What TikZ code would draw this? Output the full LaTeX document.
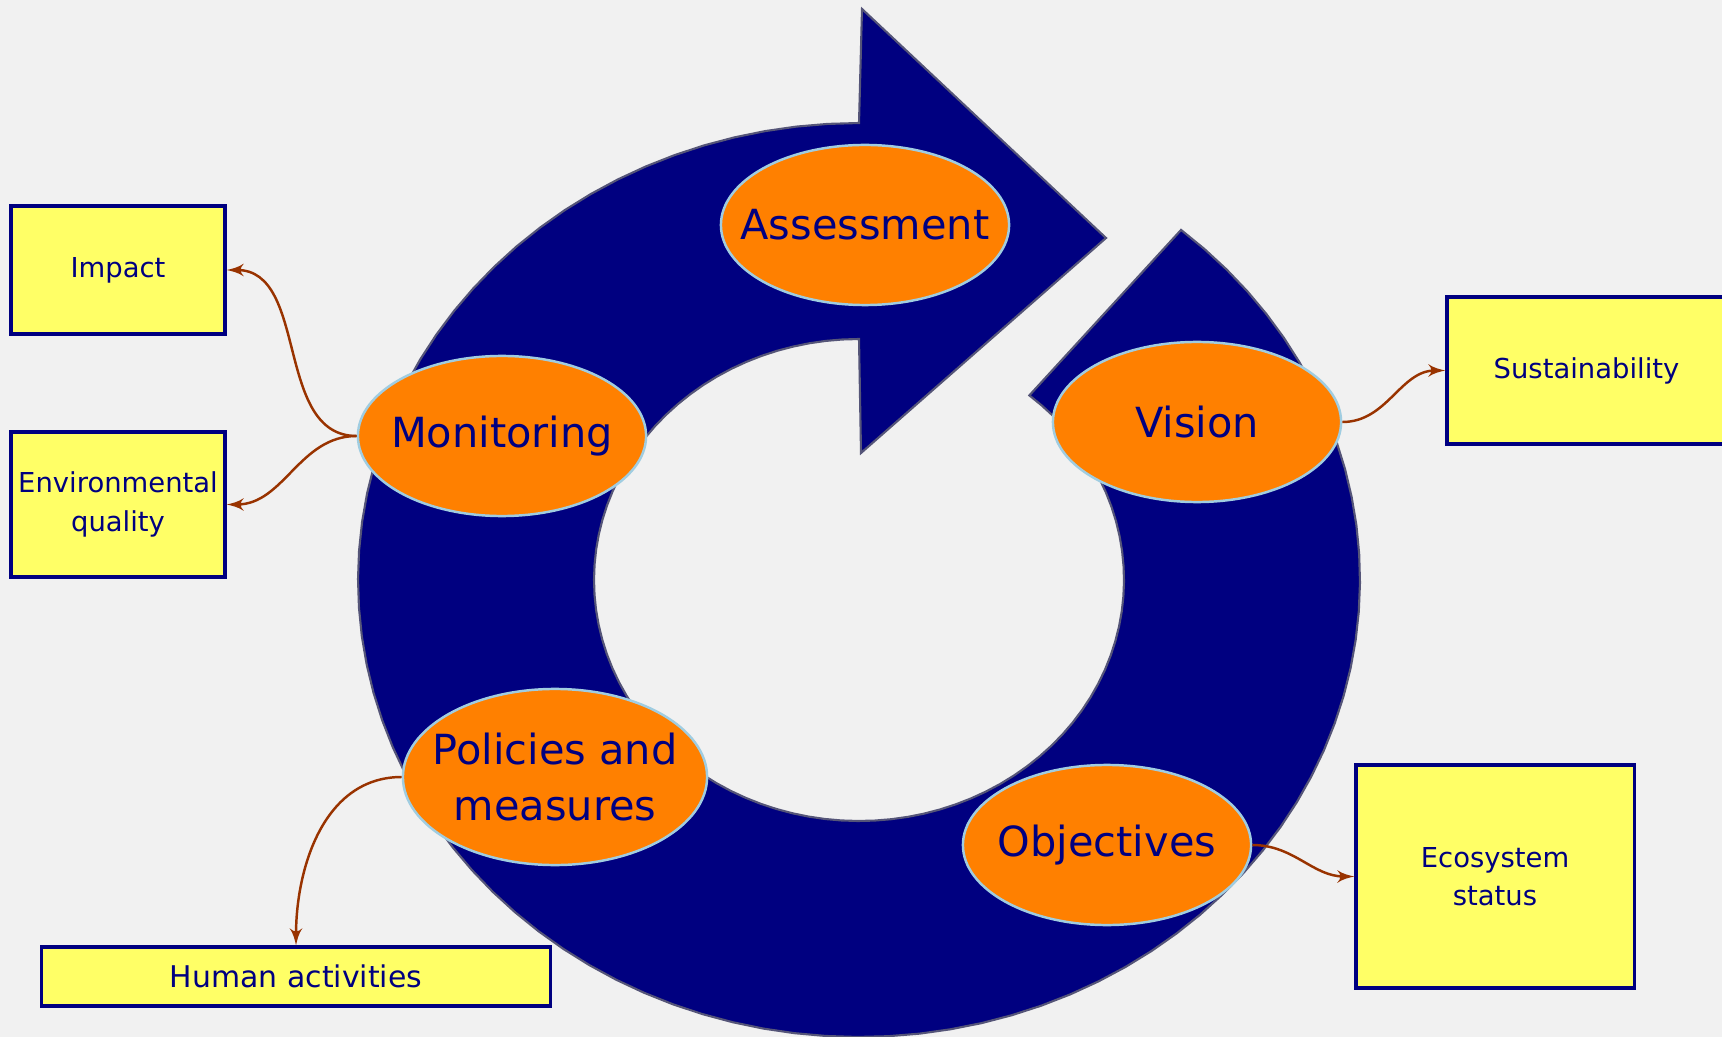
\documentclass[tikz,border=0pt]{standalone}
\usepackage{fontspec}
\setmainfont{DejaVu Sans}
\usepackage{tikz}
\usetikzlibrary{shapes,arrows}
\definecolor{navy}{RGB}{0,0,128}
\definecolor{ringedge}{RGB}{85,85,120}
\definecolor{phasefill}{RGB}{255,128,0}
\definecolor{phaseedge}{RGB}{160,205,225}
\definecolor{boxfill}{RGB}{255,255,102}
\definecolor{linkbrown}{RGB}{153,51,0}
\definecolor{paper}{RGB}{241,241,241}
\tikzstyle{ring} = [fill=navy, draw=ringedge, line width=0.6pt]
\tikzstyle{phase} = [ellipse, draw=phaseedge, line width=0.7pt, fill=phasefill, text=navy, inner xsep=-8pt, inner ysep=0pt, minimum width=2.88cm, minimum height=1.6cm, align=center, font=\fontsize{11.8pt}{16pt}\selectfont]
\tikzstyle{block} = [rectangle, draw=navy, line width=0.9pt, fill=boxfill, text=navy, inner sep=0pt, align=center, font=\fontsize{7.8pt}{10.9pt}\selectfont]
\tikzstyle{line} = [draw=linkbrown, line width=0.7pt, -latex']

\begin{document}
\begin{tikzpicture}[x=0.01cm, y=-0.01cm]
\useasboundingbox (0,0) rectangle (1722,1037);
\fill [paper] (0,0) rectangle (1722,1037);
% the cycle arrow
\filldraw [ring] plot [domain=310:630, samples=90] ({859+501*cos(\x)}, {580+457*sin(\x)})
  -- (862,9) -- (1106,238) -- (861,453)
  -- plot [domain=630:310, samples=90] ({859+265*cos(\x)}, {580+241*sin(\x)}) -- cycle;
\node [phase] (assessment) at (865,225) {Assessment};
\node [phase] (vision) at (1197,422) {Vision};
\node [phase] (objectives) at (1107,845) {Objectives};
\node [phase, minimum width=3.04cm, minimum height=1.76cm] (policies) at (555,777) {Policies and\\measures};
\node [phase] (monitoring) at (502,436) {Monitoring};
\node [block, minimum width=2.14cm, minimum height=1.28cm] (impact) at (118,270) {Impact};
\node [block, minimum width=2.14cm, minimum height=1.45cm] (env-quality) at (118,504.5) {Environmental\\quality};
\node [block, minimum width=5.08cm, minimum height=0.59cm, font=\fontsize{8.5pt}{10pt}\selectfont] (human) at (296,976.5) {Human activities};
\node [block, minimum width=2.79cm, minimum height=1.47cm] (sustain) at (1586.5,370.5) {Sustainability};
\node [block, minimum width=2.78cm, minimum height=2.23cm] (ecosystem) at (1495,876.5) {Ecosystem\\status};
\path [line] (monitoring.west) to [out=180, in=0] (impact.east);
\path [line] (monitoring.west) to [out=180, in=0] (env-quality.east);
\path [line] (policies.west) to [out=180, in=90] (human.north);
\path [line] (vision.east) to [out=0, in=180] (sustain.west);
\path [line] (objectives.east) to [out=0, in=180] (ecosystem.west);
\end{tikzpicture}
\end{document}
